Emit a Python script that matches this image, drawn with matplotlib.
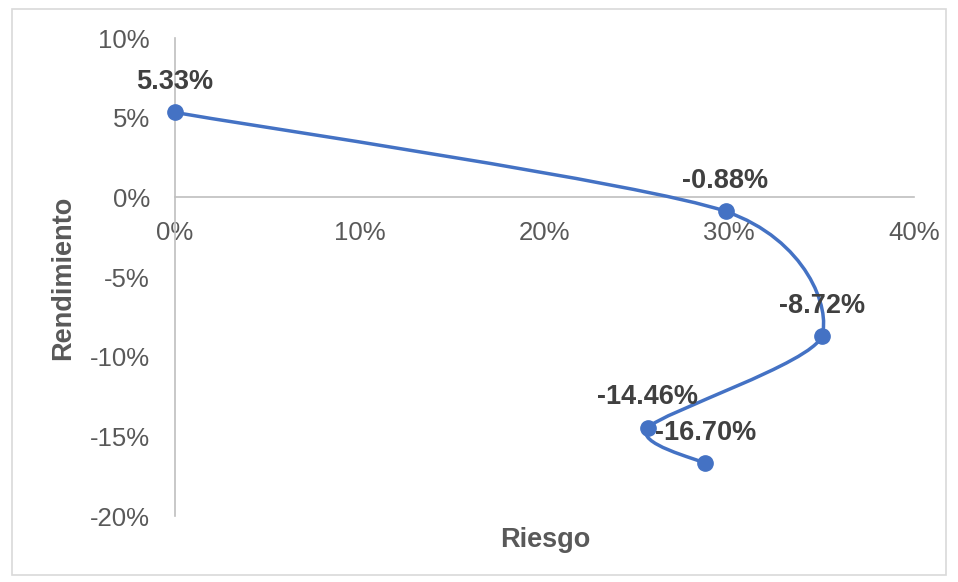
import matplotlib.pyplot as plt
import numpy as np
from matplotlib.path import Path
from matplotlib.patches import PathPatch, Rectangle
from matplotlib.ticker import FuncFormatter

riesgo = [0.0, 29.8, 35.0, 25.6, 28.7]
rendimiento = [5.33, -0.88, -8.72, -14.46, -16.70]
etiquetas = ['5.33%', '-0.88%', '-8.72%', '-14.46%', '-16.70%']

plt.rcParams['font.family'] = ['Liberation Sans', 'DejaVu Sans']
azul = '#4472C4'
gris = '#595959'


def curva_suave(xs, ys, k=1 / 8):
    # Catmull-Rom style cubic Bezier segments for the smoothed line
    p = np.column_stack([xs, ys])
    p = np.vstack([p[0], p, p[-1]])
    verts = [p[1]]
    codes = [Path.MOVETO]
    for i in range(1, len(p) - 2):
        c1 = p[i] + (p[i + 1] - p[i - 1]) * k
        c2 = p[i + 1] - (p[i + 2] - p[i]) * k
        verts += [c1, c2, p[i + 1]]
        codes += [Path.CURVE4] * 3
    return Path(verts, codes)


fig = plt.figure(figsize=(9.58, 5.82), dpi=100)
fig.patches.append(Rectangle((12 / 958, 1 - 575 / 582), 934 / 958, 566 / 582,
                             transform=fig.transFigure, fill=False,
                             edgecolor='#d9d9d9', linewidth=1.2))

ax = fig.add_axes([175 / 958, 1 - 516 / 582, 739 / 958, 478 / 582])
ax.set_xlim(0, 40)
ax.set_ylim(-20, 10)

ax.add_patch(PathPatch(curva_suave(riesgo, rendimiento), fill=False,
                       edgecolor=azul, linewidth=2.5, zorder=3,
                       clip_on=False))
ax.plot(riesgo, rendimiento, 'o', color=azul, markersize=11, zorder=4,
        clip_on=False)

for x, y, t in zip(riesgo, rendimiento, etiquetas):
    ax.annotate(t, (x, y), xytext=(0, 12.5), textcoords='offset points',
                ha='center', va='bottom', fontsize=19.5, fontweight='bold',
                color='#404040', zorder=5)

ax.set_xticks([0, 10, 20, 30, 40])
ax.set_yticks([-20, -15, -10, -5, 0, 5, 10])
ax.xaxis.set_major_formatter(FuncFormatter(lambda v, _: f'{v:.0f}%'))
ax.yaxis.set_major_formatter(FuncFormatter(lambda v, _: f'{v:.0f}%'))
ax.tick_params(length=0, labelsize=18.5, labelcolor=gris)
ax.tick_params(axis='y', pad=18)
ax.tick_params(axis='x', pad=17)

for s in ['top', 'right']:
    ax.spines[s].set_visible(False)
ax.spines['bottom'].set_position(('data', 0))
for s in ['left', 'bottom']:
    ax.spines[s].set_color('#bfbfbf')
    ax.spines[s].set_linewidth(1.2)

fig.text(545 / 958, 1 - 540 / 582, 'Riesgo', ha='center', va='center',
         fontsize=19.5, fontweight='bold', color=gris)
fig.text(63 / 958, 1 - 278 / 582, 'Rendimiento', ha='center', va='center',
         rotation=90, fontsize=19.5, fontweight='bold', color=gris)

fig.savefig('out.png', dpi=100)
